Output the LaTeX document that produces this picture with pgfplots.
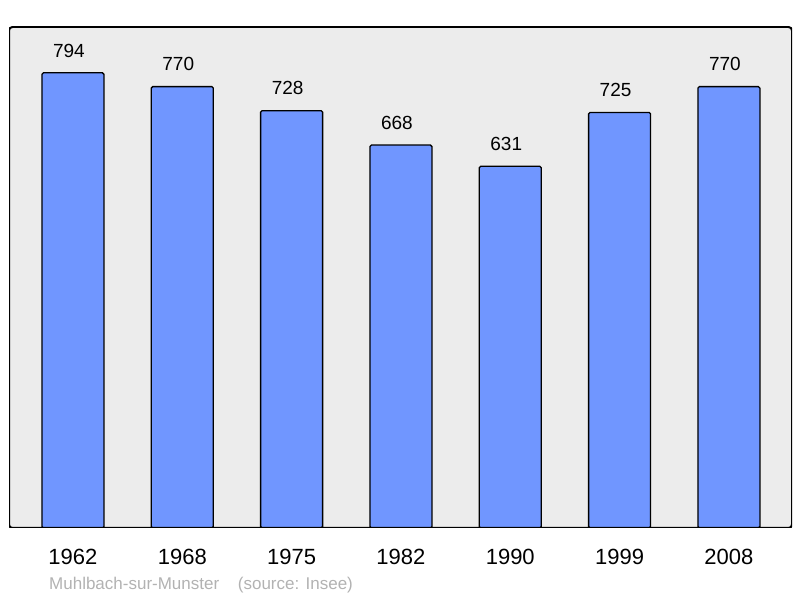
\documentclass[border=0pt]{standalone}
\usepackage{pgfplots}
\pgfplotsset{compat=1.18}
\usepackage{fontspec}
\setmainfont{Liberation Sans}

\definecolor{barblue}{RGB}{112,150,255}
\definecolor{bggray}{RGB}{236,236,236}
\definecolor{footgray}{RGB}{178,178,178}

\begin{document}
\begin{tikzpicture}
\useasboundingbox (0bp,0bp) rectangle (800bp,598bp);
\begin{axis}[
at={(9bp,70bp)}, anchor=south west,
scale only axis,
width=783bp, height=501bp,
xmin=-0.585, xmax=6.577,
ymin=0, ymax=874,
axis line style={draw=none},
axis background/.style={fill=bggray, rounded corners=3bp},
major tick length=0pt,
ytick=\empty,
xtick={0,1,2,3,4,5,6},
xticklabels={1962,1968,1975,1982,1990,1999,2008},
xticklabel style={anchor=base, inner sep=0pt, yshift=-37bp, font=\fontsize{22bp}{26bp}\selectfont},
ybar, bar width=0.567,
/pgf/number format/assume math mode=true,
nodes near coords,
nodes near coords style={anchor=south, inner sep=0pt, xshift=-4bp, yshift=15bp, font=\fontsize{19bp}{23bp}\selectfont, text=black},
]
\addplot [fill=barblue, draw=black, line width=1.3bp, rounded corners=1.5bp]
coordinates {
(0,794) (1,770) (2,728) (3,668) (4,631) (5,725) (6,770)
};
\draw [line width=2bp, rounded corners=3.5bp] (rel axis cs:0,0) rectangle (rel axis cs:1,1);
\end{axis}
\node [anchor=base west, inner sep=0pt, text=footgray, font=\fontsize{17bp}{20bp}\selectfont] at (49bp,9bp) {Muhlbach-sur-Munster\hspace{1.1em}(source: Insee)};
\end{tikzpicture}
\end{document}
